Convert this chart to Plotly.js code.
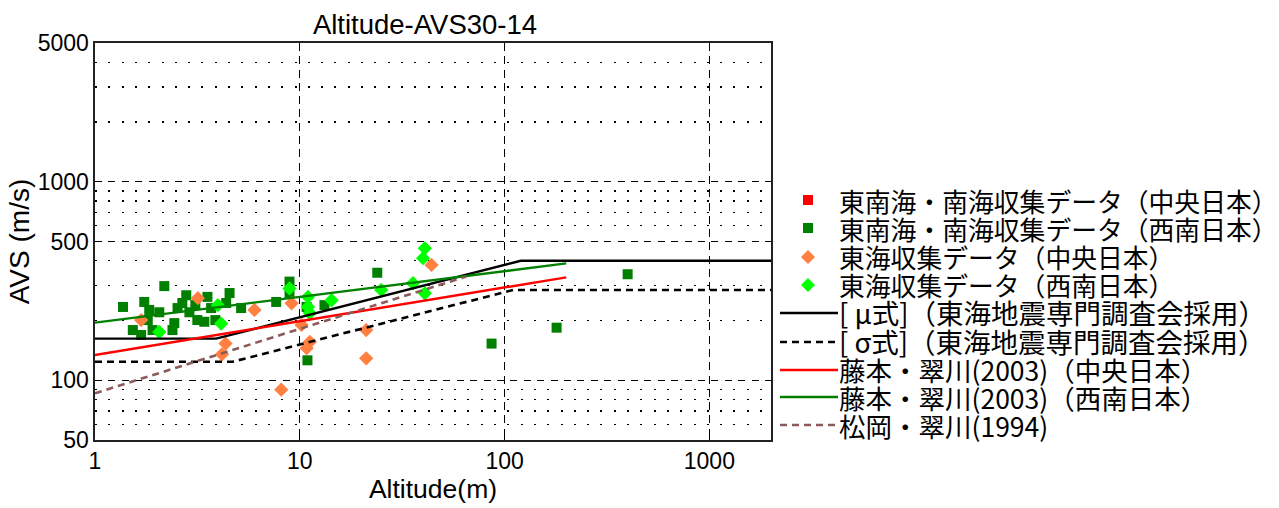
<!DOCTYPE html>
<html>
<head>
<meta charset="utf-8">
<script src="https://cdn.plot.ly/plotly-3.0.1.min.js"></script>
<style>
  html, body { margin: 0; padding: 0; background: #fff; }
  #chart { width: 1279px; height: 508px; }
</style>
</head>
<body>
<div id="chart"></div>
<script>
// ---- series: altitude (m) vs AVS30 (m/s) ----
const tonankaiCentralX = [];
const tonankaiCentralY = [];

const tonankaiWestX = [1.37, 1.53, 1.74, 1.84, 1.81, 1.68, 1.91, 2.18, 2.39, 2.44, 2.53, 2.79, 2.67, 3.16, 3.42, 3.54, 3.69, 4.54, 4.37, 5.17, 7.67, 8.91, 8.91, 10.9, 10.8, 13.2, 23.9, 86.4, 179.5, 399, 2.89, 3.09, 3.87, 2.06];
const tonankaiWestY = [234, 179, 248, 226, 201, 169, 179, 298, 179, 194, 231, 268, 245, 201, 197, 263, 231, 275, 245, 231, 248, 314, 275, 126, 234, 239, 348, 153, 184, 342, 220, 239, 201, 220];

const tokaiCentralX = [1.68, 3.18, 6.01, 9.12, 10.2, 11.2, 10.8, 4.34, 4.17, 8.12, 21.1, 21.1, 44];
const tokaiCentralY = [201, 259, 226, 244, 190, 156, 145, 153, 135, 89.6, 179, 129, 381];

const tokaiWestX = [2.06, 3.98, 4.13, 8.91, 10.96, 10.96, 11.2, 14.3, 25.0, 35.7, 40.8, 40.0, 40.8];
const tokaiWestY = [175, 239, 193, 290, 263, 234, 218, 253, 285, 308, 462, 412, 274];

// model curves (break points of each relation)
const muX = [1, 3.9, 120, 2000];
const muY = [162, 162, 400, 400];
const sigmaX = [1, 4.7, 110, 2000];
const sigmaY = [124, 124, 285, 285];
const fujiCentralX = [1, 200];
const fujiCentralY = [134, 330];
const fujiWestX = [1, 200];
const fujiWestY = [195, 388];
const matsuokaX = [1, 65];
const matsuokaY = [86, 333];

// axis ticks
const xTicks = [1, 10, 100, 1000];
const yTicks = [50, 100, 500, 1000, 5000];
const yMinor = [60, 70, 80, 90, 200, 300, 400, 600, 700, 800, 900, 2000, 3000, 4000];

const legendNames = [
  '東南海・南海収集データ（中央日本）',
  '東南海・南海収集データ（西南日本）',
  '東海収集データ（中央日本）',
  '東海収集データ（西南日本）',
  '[ μ式]（東海地震専門調査会採用）',
  '[ σ式]（東海地震専門調査会採用）',
  '藤本・翠川(2003)（中央日本）',
  '藤本・翠川(2003)（西南日本）',
  '松岡・翠川(1994)'
];
const legendSizes = [25.8, 25.8, 25.8, 25.8, 27.5, 27.5, 26.5, 26.5, 26.5];

const RED = '#ff0000', DKGREEN = '#007f00', ORANGE = '#ff8040', LIME = '#00ff00', BROWN = '#8c5a5a';

const traces = [
  {x: tonankaiCentralX, y: tonankaiCentralY, mode: 'markers', marker: {symbol: 'square', size: 10, color: RED}},
  {x: tonankaiWestX, y: tonankaiWestY, mode: 'markers', marker: {symbol: 'square', size: 10, color: DKGREEN}},
  {x: tokaiCentralX, y: tokaiCentralY, mode: 'markers', marker: {symbol: 'diamond', size: 11, color: ORANGE}},
  {x: tokaiWestX, y: tokaiWestY, mode: 'markers', marker: {symbol: 'diamond', size: 11, color: LIME}},
  {x: muX, y: muY, mode: 'lines', line: {color: '#000', width: 2.4}},
  {x: sigmaX, y: sigmaY, mode: 'lines', line: {color: '#000', width: 2.6, dash: '7px,5px'}},
  {x: fujiCentralX, y: fujiCentralY, mode: 'lines', line: {color: RED, width: 2.4}},
  {x: fujiWestX, y: fujiWestY, mode: 'lines', line: {color: DKGREEN, width: 2.4}},
  {x: matsuokaX, y: matsuokaY, mode: 'lines', line: {color: BROWN, width: 2.6, dash: '7px,5px'}}
].map(t => Object.assign(t, {type: 'scatter', showlegend: false, hoverinfo: 'skip'}));

// plot frame in pixels
const PL = 95, PR = 771, PT = 43, PB = 440;
const px = v => (v - PL) / (PR - PL);
const py = v => (PB - v) / (PB - PT);

// legend on the right of the axes: symbols as shapes, labels as one text block
const legRows = [200, 228, 257, 285, 313, 342, 370, 397, 425];
const legPitch = 28.1;
const legTextX = 838, legSymX = 808, legLine0 = 780, legLine1 = 838;
const legendText = legendNames
  .map((name, i) => `<span style="font-size:${legendSizes[i]}px">${name}</span>`)
  .join('<br>');
const annotations = [{
  xref: 'paper', yref: 'paper', x: px(legTextX), y: py(313),
  xanchor: 'left', yanchor: 'middle', align: 'left', showarrow: false,
  borderpad: 0, text: legendText,
  font: {family: '"Noto Sans CJK JP", sans-serif', size: legPitch / 1.3, color: '#000'}
}];
const shapes = [];
const legStyle = [
  {kind: 'square', color: RED},
  {kind: 'square', color: DKGREEN},
  {kind: 'diamond', color: ORANGE},
  {kind: 'diamond', color: LIME},
  {kind: 'line', color: '#000', dash: 'solid', width: 2.6},
  {kind: 'line', color: '#000', dash: '7px,5px', width: 2.6},
  {kind: 'line', color: RED, dash: 'solid', width: 2.6},
  {kind: 'line', color: DKGREEN, dash: 'solid', width: 2.6},
  {kind: 'line', color: BROWN, dash: '7px,5px', width: 2.6}
];
legStyle.forEach((s, i) => {
  const cy = legRows[i];
  if (s.kind === 'square') {
    shapes.push({type: 'rect', xref: 'paper', yref: 'paper',
      x0: px(legSymX - 5), x1: px(legSymX + 5), y0: py(cy + 5), y1: py(cy - 5),
      fillcolor: s.color, line: {width: 0}});
  } else if (s.kind === 'diamond') {
    const r = 7;
    shapes.push({type: 'path', xref: 'paper', yref: 'paper',
      path: `M${px(legSymX - r)},${py(cy)} L${px(legSymX)},${py(cy - r)} L${px(legSymX + r)},${py(cy)} L${px(legSymX)},${py(cy + r)} Z`,
      fillcolor: s.color, line: {width: 0}});
  } else {
    shapes.push({type: 'line', xref: 'paper', yref: 'paper',
      x0: px(legLine0), x1: px(legLine1), y0: py(cy), y1: py(cy),
      line: {color: s.color, width: s.width, dash: s.dash}});
  }
});

const tickFont = {family: '"Liberation Sans", Arial, sans-serif', size: 23, color: '#000'};
const xTitleFont = {family: '"Liberation Sans", Arial, sans-serif', size: 26.5, color: '#000'};
const yTitleFont = {family: '"Liberation Sans", Arial, sans-serif', size: 28, color: '#000'};

const layout = {
  width: 1279, height: 508,
  margin: {l: PL, r: 1279 - PR, t: PT, b: 508 - PB, pad: 0},
  paper_bgcolor: '#fff', plot_bgcolor: '#fff',
  showlegend: false,
  title: {text: 'Altitude-AVS30-14', font: {family: '"Liberation Sans", Arial, sans-serif', size: 27.5, color: '#000'},
          x: 425 / 1279, xanchor: 'center', y: 1 - 24 / 508, yanchor: 'middle'},
  xaxis: {
    type: 'log', range: [0, Math.log10(2000)],
    tickmode: 'array', tickvals: xTicks, ticktext: xTicks.map(String),
    tickfont: tickFont,
    showgrid: true, gridcolor: '#000', gridwidth: 1.3, griddash: '8px,5.3px',
    showline: true, linecolor: '#222', linewidth: 1.6, mirror: true,
    ticks: 'inside', ticklen: 5, tickcolor: '#000',
    zeroline: false,
    title: {text: 'Altitude(m)', font: xTitleFont, standoff: 0}
  },
  yaxis: {
    type: 'log', range: [Math.log10(50), Math.log10(5000)],
    tickmode: 'array', tickvals: yTicks, ticktext: yTicks.map(String),
    tickfont: tickFont,
    showgrid: true, gridcolor: '#000', gridwidth: 1.3, griddash: '7px,6.4px',
    minor: {tickmode: 'array', tickvals: yMinor, showgrid: true, gridcolor: '#000', gridwidth: 1.4, griddash: '2px,11.3px', ticks: ''},
    showline: true, linecolor: '#222', linewidth: 1.6, mirror: true,
    ticks: 'inside', ticklen: 5, tickcolor: '#000',
    zeroline: false,
    title: {text: 'AVS (m/s)', font: yTitleFont, standoff: 0}
  },
  annotations: annotations,
  shapes: shapes
};

Plotly.newPlot('chart', traces, layout, {displayModeBar: false, staticPlot: true});
</script>
</body>
</html>
